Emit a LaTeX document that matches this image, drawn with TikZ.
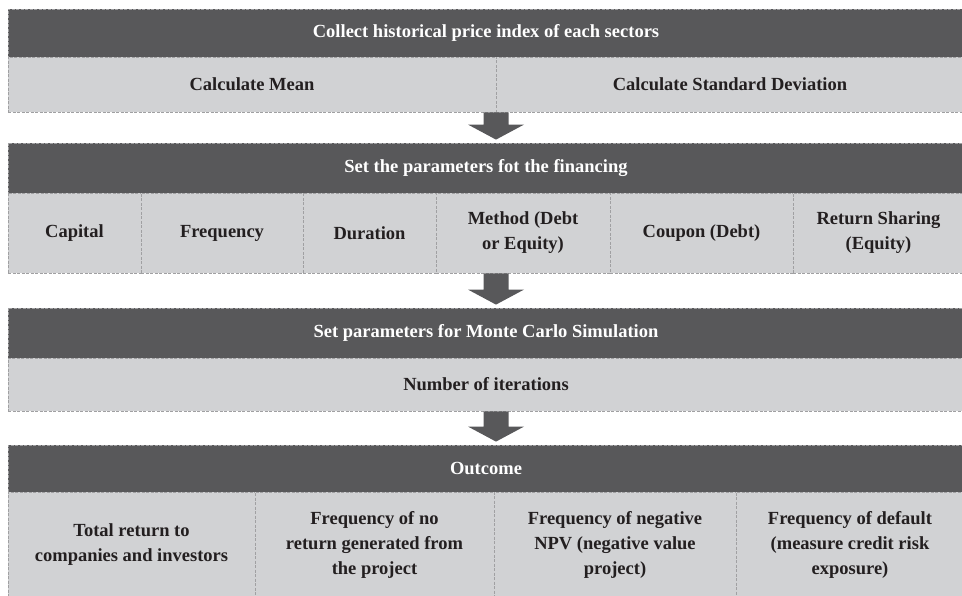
\documentclass[tikz,border=0pt]{standalone}
\usepackage{fontspec}
\setmainfont{Liberation Serif}
\usetikzlibrary{calc}
\definecolor{darkhdr}{HTML}{58585A}
\definecolor{lightcell}{HTML}{D1D2D4}
\definecolor{dashgray}{HTML}{A0A0A2}
\definecolor{txtcol}{HTML}{231F20}
\tikzset{
  boxbase/.style={rectangle, draw=dashgray, line width=0.8pt, dash pattern=on 3pt off 1.5pt,
    inner sep=0pt, align=center, font=\bfseries\fontsize{18.5}{25}\selectfont},
  hdr/.style={boxbase, fill=darkhdr, text=white},
  cell/.style={boxbase, fill=lightcell, text=txtcol},
  arrowfill/.style={fill=darkhdr},
}
\newcommand{\flowarrow}[2]{%
  \fill[arrowfill] ($(ax |- #1.south)+(-12.5,0)$) -- ($(ax |- #1.south)+(12.5,0)$)
    -- ($(ax |- #2.north)+(12.5,18)$) -- ($(ax |- #2.north)+(28,18)$)
    -- ($(ax |- #2.north)+(0,3)$) -- ($(ax |- #2.north)+(-28,18)$)
    -- ($(ax |- #2.north)+(-12.5,18)$) -- cycle;}
\begin{document}
\begin{tikzpicture}[x=1pt,y=1pt]
\useasboundingbox (0,0) rectangle (962,595);
\coordinate (ax) at (496,0);
% block 1
\node[hdr, minimum width=956, minimum height=48] (h1) at (486,562) {Collect historical price index of each sectors};
\node[cell, minimum width=488, minimum height=55] (c11) at (252,510.5) {Calculate Mean};
\node[cell, minimum width=468, minimum height=55] (c12) at (730,510.5) {Calculate Standard Deviation};
% block 2
\node[hdr, minimum width=956, minimum height=50] (h2) at (486,427) {Set the parameters fot the financing};
\node[cell, minimum width=133, minimum height=80] (c21) at (74.5,362) {Capital};
\node[cell, minimum width=162, minimum height=80] (c22) at (222,362) {Frequency};
\node[cell, minimum width=133, minimum height=80] (c23) at (369.5,362) {Duration};
\node[cell, minimum width=174, minimum height=80] (c24) at (523,362) {Method (Debt\\or Equity)};
\node[cell, minimum width=183, minimum height=80] (c25) at (701.5,362) {Coupon (Debt)};
\node[cell, minimum width=171, minimum height=80] (c26) at (878.5,362) {Return Sharing\\(Equity)};
% block 3
\node[hdr, minimum width=956, minimum height=50] (h3) at (486,262) {Set parameters for Monte Carlo Simulation};
\node[cell, minimum width=956, minimum height=53] (c31) at (486,210.5) {Number of iterations};
% block 4
\node[hdr, minimum width=956, minimum height=47] (h4) at (486,126.5) {Outcome};
\node[cell, minimum width=247, minimum height=106] (c41) at (131.5,50) {Total return to\\companies and investors};
\node[cell, minimum width=239, minimum height=106] (c42) at (374.5,50) {Frequency of no\\return generated from\\the project};
\node[cell, minimum width=242, minimum height=106] (c43) at (615,50) {Frequency of negative\\NPV (negative value\\project)};
\node[cell, minimum width=228, minimum height=106] (c44) at (850,50) {Frequency of default\\(measure credit risk\\exposure)};
% arrows
\flowarrow{c12}{h2}
\flowarrow{c24}{h3}
\flowarrow{c31}{h4}
\end{tikzpicture}
\end{document}
